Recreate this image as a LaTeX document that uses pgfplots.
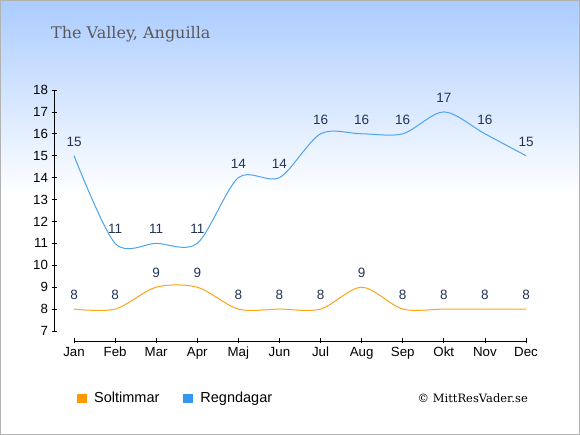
\documentclass[border=0pt]{standalone}
\usepackage{pgfplots}
\pgfplotsset{compat=1.18}
\usepackage{fontspec}
\setmainfont{Liberation Sans}
\newfontfamily\seriffont{DejaVu Serif}
\definecolor{sunc}{HTML}{FFA31A}
\definecolor{sunsq}{HTML}{FF9900}
\definecolor{rainc}{HTML}{4DA3EE}
\definecolor{rainsq}{HTML}{3399EE}
\definecolor{lblc}{HTML}{223355}
\definecolor{topc}{HTML}{AACCFF}
\begin{document}
\begin{tikzpicture}
\fill[white] (0pt,0pt) rectangle (580pt,435pt);
\shade[top color=topc, bottom color=white] (0pt,240pt) rectangle (580pt,435pt);
\draw[black!30, line width=1pt] (0.5pt,0.5pt) rectangle (579.5pt,434.5pt);
\node[anchor=base west, text=black!65, inner sep=0pt, font=\seriffont\fontsize{16}{19}\selectfont] at (51pt,396.7pt) {The Valley, Anguilla};
\node[anchor=east, inner sep=0pt, font=\seriffont\fontsize{11.5}{13}\selectfont] at (528pt,37pt) {© MittResVader.se};
\begin{axis}[
  at={(54pt,94pt)}, anchor=south west, scale only axis,
  width=472pt, height=251pt,
  xmin=-0.487, xmax=11, ymin=6.544, ymax=18,
  axis line style={draw=none}, clip=false,
  xtick={0,...,11},
  xticklabels={Jan,Feb,Mar,Apr,Maj,Jun,Jul,Aug,Sep,Okt,Nov,Dec},
  ytick={7,...,18},
  tick pos=left, tick align=center, major tick length=5pt,
  tick style={black, line width=0.8pt},
  /pgf/number format/assume math mode=true,
  ticklabel style={font=\fontsize{13.3}{15}\selectfont},
  nodes near coords,
  nodes near coords style={font=\fontsize{13.5}{15}\selectfont, text=lblc, anchor=south, inner sep=0pt, yshift=9pt},
  legend style={at={(axis description cs:0.0487,-0.229)}, anchor=west, draw=none, fill=none, inner sep=0pt, legend columns=2, font=\fontsize{14.5}{16}\selectfont, /tikz/every even column/.append style={column sep=22pt}},
]
\draw[black, line width=0.8pt] (axis cs:0,6.544) -- (axis cs:11,6.544);
\draw[black, line width=0.8pt] (axis cs:-0.487,7) -- (axis cs:-0.487,18);
\addplot[sunc, line width=1pt, smooth, legend image code/.code={\fill[sunsq, draw=none] (0pt,-4.75pt) rectangle (9.5pt,4.75pt);\path[draw=none, fill=none] (15pt,0pt) circle (0.01pt);}] coordinates {
(0,8) (1,8) (2,9) (3,9) (4,8) (5,8) (6,8) (7,9) (8,8) (9,8) (10,8) (11,8)};
\addlegendentry{Soltimmar}
\addplot[rainc, line width=1pt, smooth, legend image code/.code={\fill[rainsq, draw=none] (0pt,-4.75pt) rectangle (9.5pt,4.75pt);\path[draw=none, fill=none] (15pt,0pt) circle (0.01pt);}] coordinates {
(0,15) (1,11) (2,11) (3,11) (4,14) (5,14) (6,16) (7,16) (8,16) (9,17) (10,16) (11,15)};
\addlegendentry{Regndagar}
\end{axis}
\end{tikzpicture}
\end{document}
